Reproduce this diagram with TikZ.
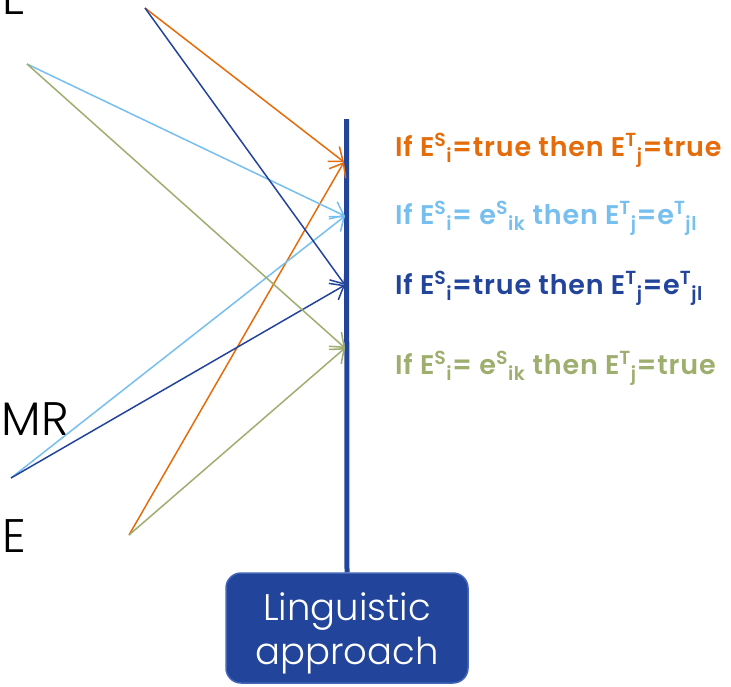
\documentclass[tikz,border=0pt]{standalone}
\usepackage{fontspec}
\setmainfont{Poppins}[UprightFont={Poppins Light}, BoldFont={Poppins SemiBold}]
\usetikzlibrary{arrows.meta, positioning}

\definecolor{orng}{HTML}{E46C0A}
\definecolor{skyb}{HTML}{77BFEE}
\definecolor{navy}{HTML}{22449B}
\definecolor{olive}{HTML}{9DAE6E}
\definecolor{boxrim}{HTML}{4466B8}

% staggered super/subscript, as in E^S then _i
\newcommand{\supsub}[2]{\textsuperscript{#1}\textsubscript{#2}}

\tikzset{
  link/.style={line width=1.5pt, -{Straight Barb[length=12pt,width=19pt,line width=1.5pt]}},
  rule/.style={anchor=base west, inner sep=0pt,
    font=\fontsize{27}{30}\selectfont\bfseries\addfontfeature{LetterSpace=3}},
  side/.style={anchor=base east, inner sep=0pt, font=\fontsize{47}{50}\selectfont},
  approach/.style={draw=boxrim, line width=1.5pt, fill=navy, rounded corners=15pt,
    text=white, align=center, minimum width=242pt, minimum height=110pt,
    font=\fontsize{37}{44}\selectfont}
}

\begin{document}
\begin{tikzpicture}[x=1pt, y=-1pt]
\useasboundingbox (0,0) rectangle (731,686);
\clip (0,0) rectangle (731,686);

% labels cut off at the left edge
\node[side] (lblE) at (26,14) {E};
\node[side] (lblMR) at (69,435) {MR};
\node[side] (lblE2) at (26,552) {E};

% start points
\coordinate (srcA) at (145,8);
\coordinate (srcB) at (27,64);
\coordinate (srcC) at (11,478);
\coordinate (srcD) at (129,535);

% arrow ends on the bar
\coordinate (hitO) at (344,162);
\coordinate (hitS) at (345,216);
\coordinate (hitN) at (345,285);
\coordinate (hitG) at (345,348);

% the bar and its box
\coordinate (bartop) at (346.5,119);
\node[approach] (ling) at (347,628) {\rule{0pt}{38pt}Linguistic\\approach};
\draw[navy, line width=5pt] (bartop) -- (ling.north);

\draw[link, orng] (srcA) -- (hitO);
\draw[link, orng] (srcD) -- (hitO);
\draw[link, skyb] (srcB) -- (hitS);
\draw[link, skyb] (srcC) -- (hitS);
\draw[link, navy] (srcA) -- (hitN);
\draw[link, navy] (srcC) -- (hitN);
\draw[link, olive] (srcB) -- (hitG);
\draw[link, olive] (srcD) -- (hitG);

% the four rules
\node[rule, text=orng] (ruleO) at (395,156) {If E\supsub{S}{i}=true then E\supsub{T}{j}=true};
\node[rule, text=skyb] (ruleS) at (395,224) {If E\supsub{S}{i}= e\supsub{S}{ik} then E\supsub{T}{j}=e\supsub{T}{jl}};
\node[rule, text=navy] (ruleN) at (395,294) {If E\supsub{S}{i}=true then E\supsub{T}{j}=e\supsub{T}{jl}};
\node[rule, text=olive] (ruleG) at (395,374) {If E\supsub{S}{i}= e\supsub{S}{ik} then E\supsub{T}{j}=true};
\end{tikzpicture}
\end{document}
